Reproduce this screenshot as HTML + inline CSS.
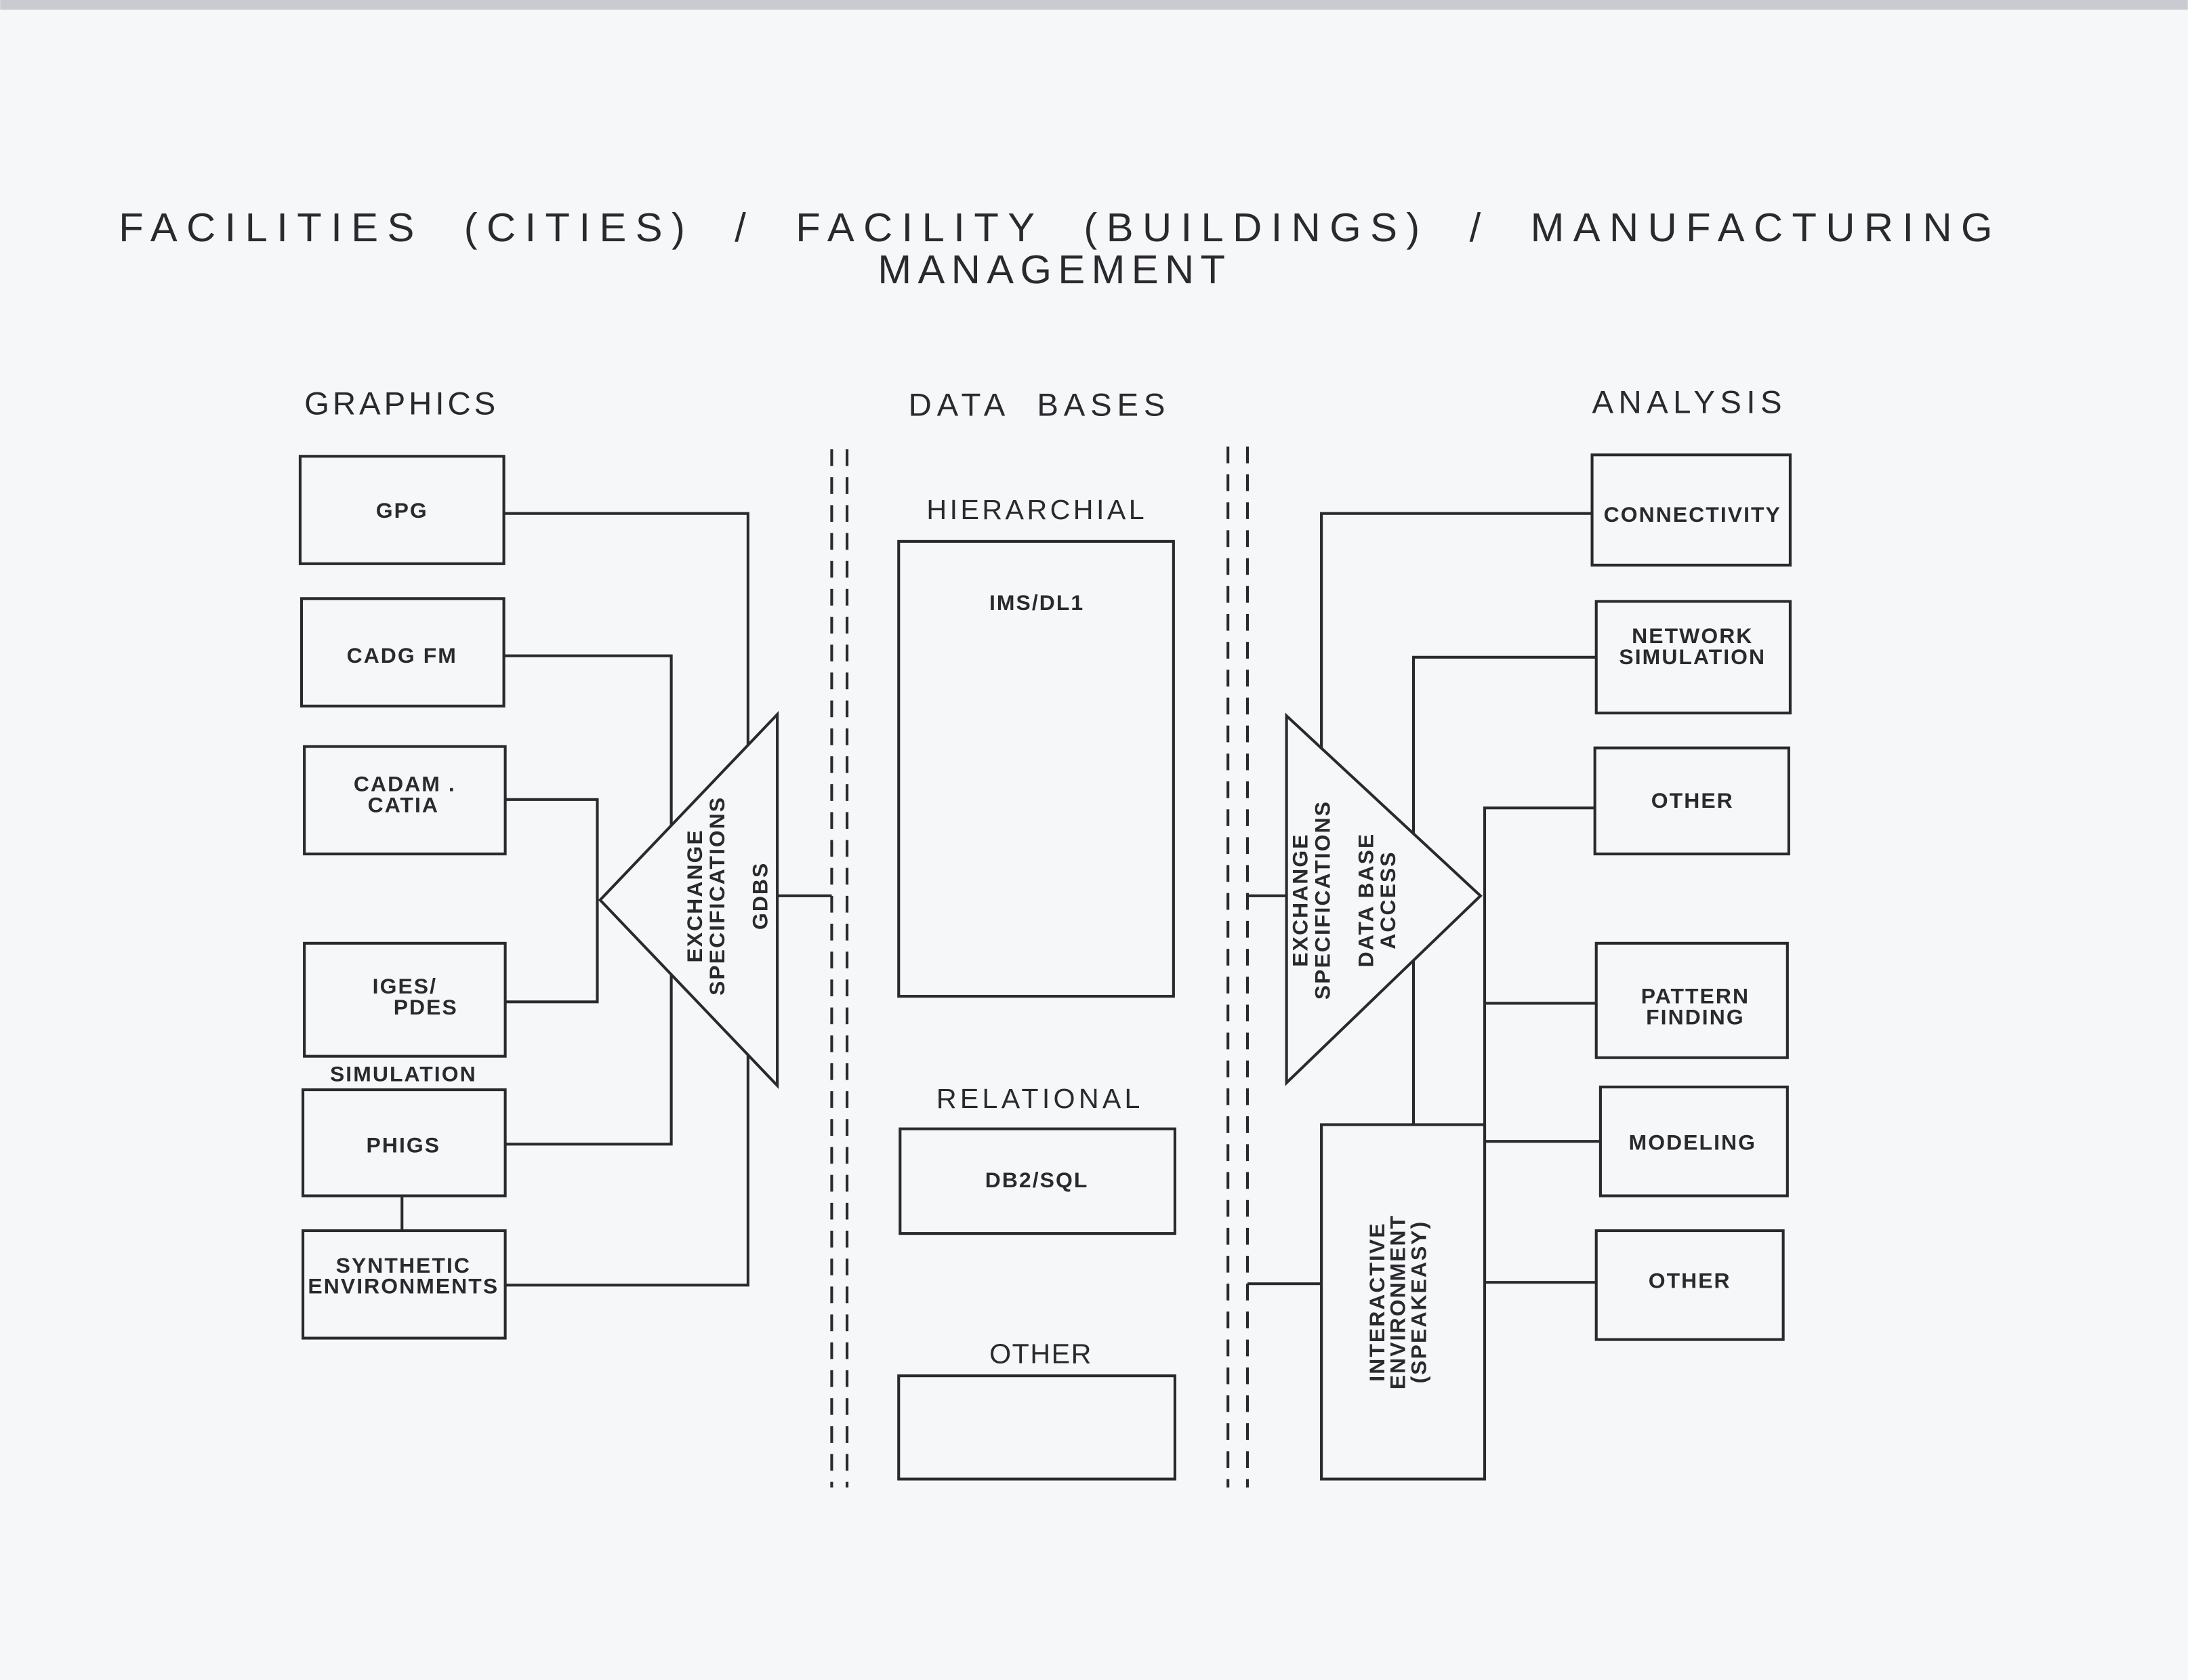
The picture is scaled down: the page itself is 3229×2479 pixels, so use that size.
<!DOCTYPE html>
<html><head><meta charset="utf-8"><style>
html,body{margin:0;padding:0;background:#f6f7f9;}
svg{display:block}
text{font-family:"Liberation Sans",sans-serif;fill:#2a2a2e;}
.t{font-size:29px;}
.h{font-size:23px;letter-spacing:3px}
.m{font-size:20px;letter-spacing:2px}
.b{font-size:15.5px;font-weight:bold;letter-spacing:1px}
</style></head><body>
<svg width="3229" height="2479" viewBox="0 0 1568 1204" xmlns="http://www.w3.org/2000/svg">
<rect x="0" y="0" width="1568" height="1204" fill="#f6f7f9"/>
<rect x="0" y="0" width="1568" height="7" fill="#c9cbd0"/>
<g fill="none" stroke="#2a2a2e" stroke-width="2">
<rect x="215" y="327" width="146" height="77"/>
<rect x="216" y="429" width="145" height="77"/>
<rect x="218" y="535" width="144" height="77"/>
<rect x="218" y="676" width="144" height="81"/>
<rect x="217" y="781" width="145" height="76"/>
<rect x="217" y="882" width="145" height="77"/>
<line x1="288" y1="857" x2="288" y2="882"/>
<polyline points="361,368 536,368 536,534"/>
<polyline points="361,470 481,470 481,820 362,820"/>
<polyline points="362,573 428,573 428,718 362,718"/>
<polyline points="362,921 536,921 536,756"/>
<line x1="557" y1="642" x2="596" y2="642"/>
<polygon points="430,645 557,512 557,778" fill="#f6f7f9"/>
<rect x="644" y="388" width="197" height="326"/>
<rect x="645" y="809" width="197" height="75"/>
<rect x="644" y="986" width="198" height="74"/>
<rect x="1141" y="326" width="142" height="79"/>
<rect x="1144" y="431" width="139" height="80"/>
<rect x="1143" y="536" width="139" height="76"/>
<rect x="1144" y="676" width="137" height="82"/>
<rect x="1147" y="779" width="134" height="78"/>
<rect x="1144" y="882" width="134" height="78"/>
<polyline points="1141,368 947,368 947,536"/>
<polyline points="1144,471 1013,471 1013,806"/>
<polyline points="1143,579 1064,579 1064,919 1144,919"/>
<line x1="1064" y1="719" x2="1144" y2="719"/>
<line x1="1064" y1="818" x2="1147" y2="818"/>
<line x1="894" y1="642" x2="922" y2="642"/>
<line x1="894" y1="920" x2="947" y2="920"/>
<polygon points="1061,642 922,513 922,776" fill="#f6f7f9"/>
<rect x="947" y="806" width="117" height="254" fill="#f6f7f9"/>
</g>
<g stroke="#2a2a2e" stroke-width="2" stroke-dasharray="12,8">
<line x1="596" y1="322" x2="596" y2="1066"/>
<line x1="607" y1="322" x2="607" y2="1066"/>
<line x1="880" y1="320" x2="880" y2="1066"/>
<line x1="894" y1="320" x2="894" y2="1066"/>
</g>
<text class="t" x="85" y="173" textLength="1343" lengthAdjust="spacing" xml:space="preserve">FACILITIES  (CITIES)  /  FACILITY  (BUILDINGS)  /  MANUFACTURING</text>
<text class="t" x="629" y="203" textLength="249" lengthAdjust="spacing">MANAGEMENT</text>
<text class="h" x="218" y="297" textLength="140" lengthAdjust="spacing">GRAPHICS</text>
<text class="h" x="651" y="298" textLength="187" lengthAdjust="spacing" xml:space="preserve">DATA  BASES</text>
<text class="h" x="1141" y="296" textLength="139" lengthAdjust="spacing">ANALYSIS</text>
<text class="b" x="288" y="371" text-anchor="middle">GPG</text>
<text class="b" x="288" y="475" text-anchor="middle">CADG  FM</text>
<text class="b" x="290" y="567" text-anchor="middle">CADAM .</text>
<text class="b" x="289" y="582" text-anchor="middle">CATIA</text>
<text class="b" x="290" y="712" text-anchor="middle">IGES/</text>
<text class="b" x="305" y="727" text-anchor="middle">PDES</text>
<text class="b" x="289" y="775" text-anchor="middle">SIMULATION</text>
<text class="b" x="289" y="826" text-anchor="middle">PHIGS</text>
<text class="b" x="289" y="912" text-anchor="middle">SYNTHETIC</text>
<text class="b" x="289" y="927" text-anchor="middle">ENVIRONMENTS</text>
<text class="m" x="664" y="372" textLength="158" lengthAdjust="spacing">HIERARCHIAL</text>
<text class="b" x="743" y="437" text-anchor="middle">IMS/DL1</text>
<text class="m" x="671" y="794" textLength="148" lengthAdjust="spacing">RELATIONAL</text>
<text class="b" x="743" y="851" text-anchor="middle">DB2/SQL</text>
<text class="m" x="709" y="977" textLength="75" lengthAdjust="spacing">OTHER</text>
<text class="b" x="1213" y="374" text-anchor="middle">CONNECTIVITY</text>
<text class="b" x="1213" y="461" text-anchor="middle">NETWORK</text>
<text class="b" x="1213" y="476" text-anchor="middle">SIMULATION</text>
<text class="b" x="1213" y="579" text-anchor="middle">OTHER</text>
<text class="b" x="1215" y="719" text-anchor="middle">PATTERN</text>
<text class="b" x="1215" y="734" text-anchor="middle">FINDING</text>
<text class="b" x="1213" y="824" text-anchor="middle">MODELING</text>
<text class="b" x="1211" y="923" text-anchor="middle">OTHER</text>
<g transform="translate(503,642) rotate(-90)"><text class="b" x="0" y="0" text-anchor="middle">EXCHANGE</text><text class="b" x="0" y="16" text-anchor="middle">SPECIFICATIONS</text></g>
<g transform="translate(550,642) rotate(-90)"><text class="b" x="0" y="0" text-anchor="middle">GDBS</text></g>
<g transform="translate(937,645) rotate(-90)"><text class="b" x="0" y="0" text-anchor="middle">EXCHANGE</text><text class="b" x="0" y="16" text-anchor="middle">SPECIFICATIONS</text></g>
<g transform="translate(984,645) rotate(-90)"><text class="b" x="0" y="0" text-anchor="middle">DATA BASE</text><text class="b" x="0" y="16" text-anchor="middle">ACCESS</text></g>
<g transform="translate(992,933) rotate(-90)"><text class="b" x="0" y="0" text-anchor="middle">INTERACTIVE</text><text class="b" x="0" y="15" text-anchor="middle">ENVIRONMENT</text><text class="b" x="0" y="30" text-anchor="middle">(SPEAKEASY)</text></g>
</svg>
</body></html>
